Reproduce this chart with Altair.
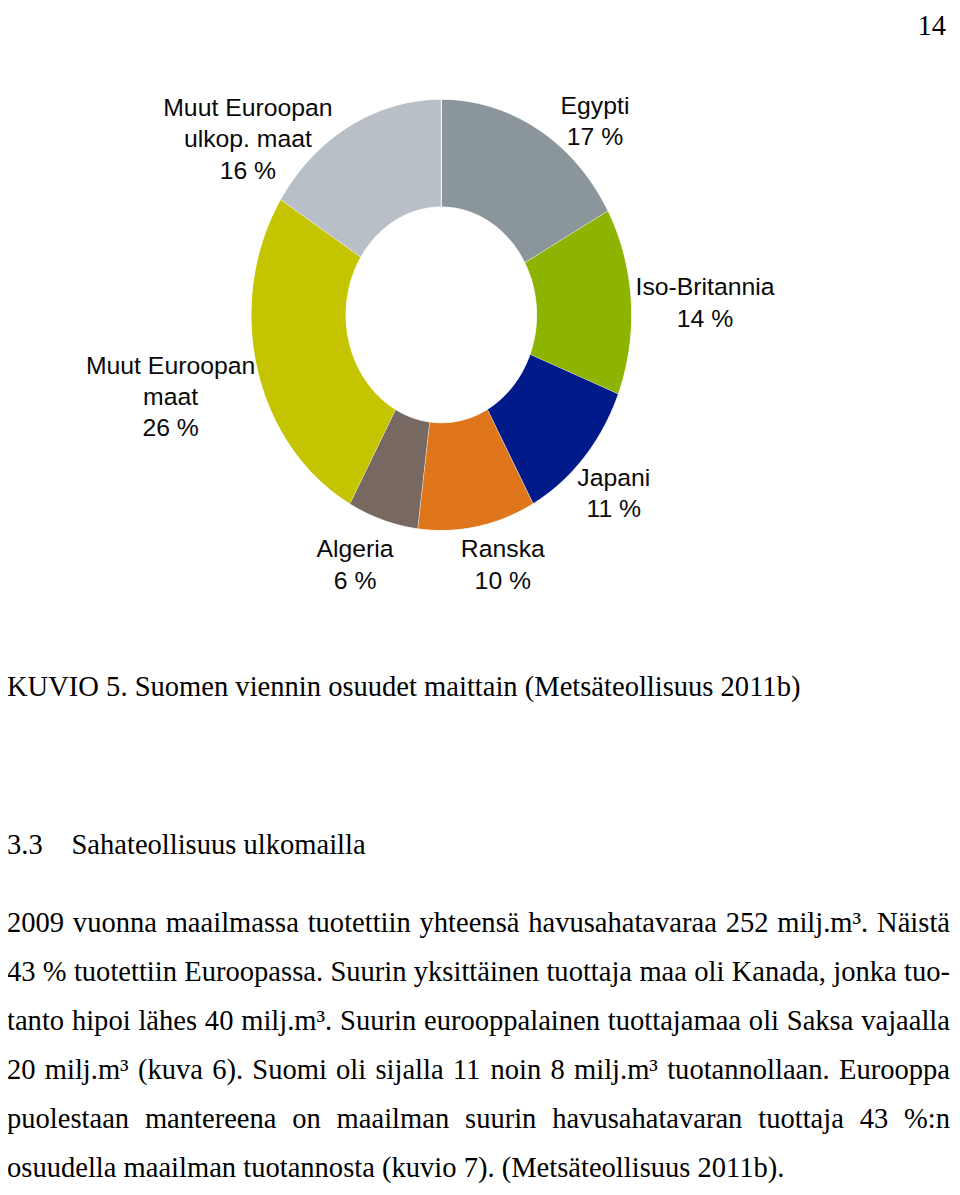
import altair as alt
import pandas as pd

# ---------------- data ----------------
categories = ["Egypti", "Iso-Britannia", "Japani", "Ranska", "Algeria",
              "Muut Euroopan maat", "Muut Euroopan ulkop. maat"]
shares = [17, 14, 11, 10, 6, 26, 16]
label_texts = ["Egypti\n17 %", "Iso-Britannia\n14 %", "Japani\n11 %", "Ranska\n10 %",
               "Algeria\n6 %", "Muut Euroopan\nmaat\n26 %", "Muut Euroopan\nulkop. maat\n16 %"]

# ---------------- styles / layout ----------------
colors = ["#8B959C", "#8CB400", "#001A8A", "#E0761C", "#776862", "#C5C400", "#B8BFC7"]
# label anchors in unit-donut coordinates (outer radius = 1)
label_ux = [0.807, 1.385, 0.906, 0.323, -0.453, -1.422, -1.016]
label_uy = [0.931, 0.090, -0.793, -1.124, -1.124, -0.274, 0.922]

page_number = "14"
caption = "KUVIO 5. Suomen viennin osuudet maittain (Metsäteollisuus 2011b)"
heading_num = "3.3"
heading_txt = "Sahateollisuus ulkomailla"
paragraph = [
    "2009 vuonna maailmassa tuotettiin yhteensä havusahatavaraa 252 milj.m³. Näistä",
    "43 % tuotettiin Euroopassa. Suurin yksittäinen tuottaja maa oli Kanada, jonka tuo-",
    "tanto hipoi lähes 40 milj.m³. Suurin eurooppalainen tuottajamaa oli Saksa vajaalla",
    "20 milj.m³ (kuva 6). Suomi oli sijalla 11 noin 8 milj.m³ tuotannollaan. Eurooppa",
    "puolestaan mantereena on maailman suurin havusahatavaran tuottaja 43 %:n",
    "osuudella maailman tuotannosta (kuvio 7). (Metsäteollisuus 2011b).",
]

FS = 28.8          # serif body font size
SANS = 25          # label font size
X_RANGE = [245, 629]
Y_RANGE = [522, 87]
N = 90

# Times-compatible advance widths (per 1000 em) for justification layout
W = dict(a=444, b=500, c=444, d=500, e=444, f=333, g=500, h=500, i=278, j=278, k=500,
         l=278, m=778, n=500, o=500, p=500, q=500, r=333, s=389, t=278, u=500, v=500,
         w=722, x=500, y=500, z=444)
W.update({" ": 250, "%": 833, ":": 278, ".": 250, ",": 250, "-": 333, "(": 333, ")": 333,
          "³": 300, "ä": 444, "ö": 500, "E": 611, "K": 722, "M": 889, "N": 722, "S": 556})
for dgt in "0123456789":
    W[dgt] = 500


def text_width(s):
    return sum(W.get(ch, 500) for ch in s) * FS / 1000.0


rows = []
rows.append(dict(txt=page_number, px=946 - text_width(page_number), py=22))
rows.append(dict(txt=caption, px=-1, py=689))
rows.append(dict(txt=heading_num, px=-1, py=848))
rows.append(dict(txt=heading_txt, px=64, py=848))

left, right = -1, 950
base0, step = 927, 49.3
for k, line in enumerate(paragraph):
    py = base0 + k * step
    if k == len(paragraph) - 1:
        rows.append(dict(txt=line, px=left, py=py))
        continue
    words = line.split(" ")
    natural = sum(text_width(w_) for w_ in words)
    gap = (right - left - natural) / (len(words) - 1)
    x = left
    for w_ in words:
        rows.append(dict(txt=w_, px=x, py=py))
        x += text_width(w_) + gap
page_df = pd.DataFrame(rows)

slice_df = pd.DataFrame({"idx": list(range(len(categories))),
                         "category": categories, "share": shares})
label_df = pd.DataFrame({"category": categories, "label": label_texts,
                         "ux": label_ux, "uy": label_uy})

xs = alt.Scale(domain=[-1, 1], range=X_RANGE)
ys = alt.Scale(domain=[-1, 1], range=Y_RANGE)
no_frame = alt.ViewBackground(stroke="transparent", strokeWidth=0)

slices = alt.Chart(slice_df).transform_window(
    cum="sum(share)", frame=[None, 0], sort=[alt.SortField("idx")]
).transform_joinaggregate(
    total="sum(share)"
).transform_calculate(
    start="datum.cum - datum.share",
    steps=f"sequence(0, {2 * N + 2})",
).transform_flatten(
    ["steps"], as_=["i"]
).transform_calculate(
    frac=f"datum.i <= {N} ? datum.i / {N} : ({2 * N + 1} - datum.i) / {N}",
    r=f"datum.i <= {N} ? 1 : 0.5",
).transform_calculate(
    ang="2 * PI * (datum.start + datum.frac * datum.share) / datum.total"
).transform_calculate(
    ux="datum.r * sin(datum.ang)",
    uy="datum.r * cos(datum.ang)",
).mark_line(filled=True, stroke="white", strokeWidth=1, interpolate="linear").encode(
    x=alt.X("ux:Q", scale=xs, axis=None),
    y=alt.Y("uy:Q", scale=ys, axis=None),
    color=alt.Color("category:N", scale=alt.Scale(domain=categories, range=colors), legend=None),
    detail="category:N",
    order=alt.Order("i:Q"),
)

labels = alt.Chart(label_df).mark_text(
    font="Liberation Sans", fontSize=SANS, align="center", baseline="alphabetic",
    lineBreak="\n", lineHeight=31.5, color="#0a0a0a"
).encode(
    x=alt.X("ux:Q", scale=xs, axis=None),
    y=alt.Y("uy:Q", scale=ys, axis=None),
    text="label:N",
)

donut = alt.layer(slices, labels)

page_text = alt.Chart(page_df).mark_text(
    font="Liberation Serif", fontSize=FS, align="left", baseline="alphabetic", color="#000000"
).encode(
    x=alt.X("px:Q", scale=None, axis=None),
    y=alt.Y("py:Q", scale=None, axis=None),
    text="txt:N",
)

chart = alt.layer(donut, page_text).resolve_scale(
    x="independent", y="independent"
).properties(
    width=952, height=1179, padding=0, autosize="none", view=no_frame
).configure_view(strokeWidth=0, stroke="transparent", strokeOpacity=0).configure(background="white")

chart.save("out.html", embed_options={"renderer": "svg", "actions": False})
